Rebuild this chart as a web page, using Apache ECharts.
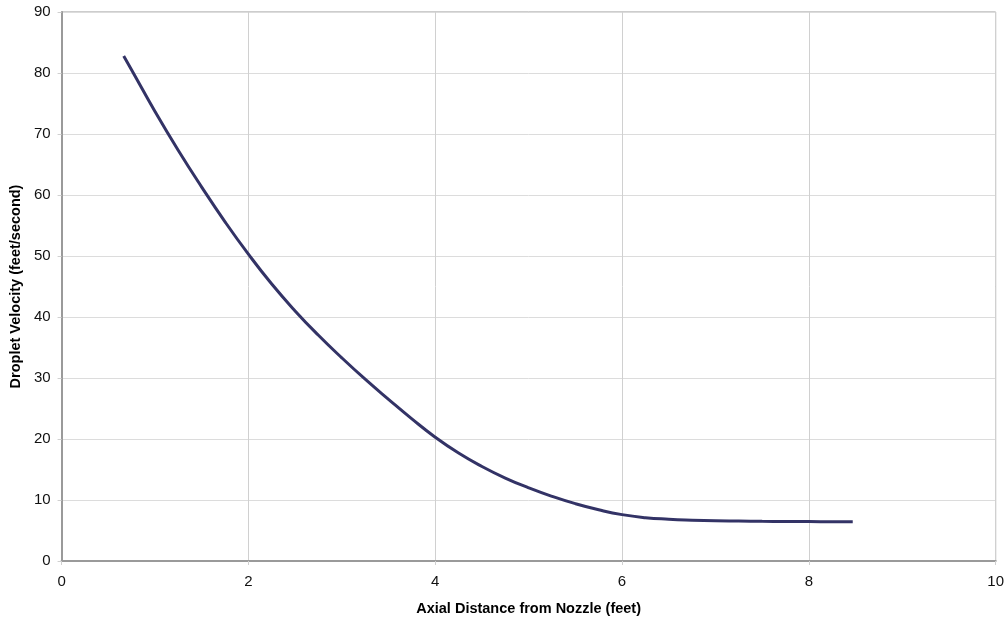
<!DOCTYPE html>
<html><head><meta charset="utf-8">
<script src="https://cdn.jsdelivr.net/npm/echarts@6/dist/echarts.min.js"></script>
<style>html,body{margin:0;padding:0;background:#fff}#c{width:1007px;height:622px}</style>
</head><body><div id="c"></div>
<script>
const distance = [0.665,0.75,1.0,1.25,1.5,1.75,2.0,2.25,2.5,2.75,3.0,3.25,3.5,3.75,4.0,4.25,4.5,4.75,5.0,5.25,5.5,5.75,6.0,6.25,6.5,6.75,7.0,7.25,7.5,7.75,8.0,8.25,8.47];
const velocity = [82.8,80.5,73.7,67.3,61.3,55.6,50.3,45.4,41.0,37.0,33.3,29.8,26.5,23.3,20.3,17.7,15.5,13.6,12.0,10.6,9.4,8.4,7.6,7.1,6.85,6.7,6.6,6.55,6.5,6.48,6.46,6.45,6.45];
const xTitle = 'Axial Distance from Nozzle (feet)';
const yTitle = 'Droplet Velocity (feet/second)';

const chart = echarts.init(document.getElementById('c'), null, {renderer:'canvas'});
const font = 'Liberation Sans, Arial, sans-serif';
chart.setOption({
  animation:false,
  grid:{left:61,right:9,top:12,bottom:61,show:true,borderColor:'#9a9a9a',borderWidth:1,containLabel:false},
  xAxis:{type:'value',min:0,max:10,interval:2,
    name:xTitle,nameLocation:'middle',nameGap:40,
    nameTextStyle:{fontFamily:font,fontWeight:'bold',fontSize:14.5,color:'#000'},
    axisLine:{show:true,lineStyle:{color:'#9a9a9a',width:2}},
    axisTick:{show:true,length:4,lineStyle:{color:'#d0d0d0'}},
    axisLabel:{fontFamily:font,fontSize:15,color:'#111',margin:13},
    splitLine:{show:true,lineStyle:{color:'#d0d0d0',width:1}}},
  yAxis:{type:'value',min:0,max:90,interval:10,
    name:yTitle,nameLocation:'middle',nameGap:37,
    nameTextStyle:{fontFamily:font,fontWeight:'bold',fontSize:14.5,color:'#000'},
    axisLine:{show:true,lineStyle:{color:'#9a9a9a',width:2}},
    axisTick:{show:true,length:4,lineStyle:{color:'#d0d0d0'}},
    axisLabel:{fontFamily:font,fontSize:15,color:'#111',margin:11},
    splitLine:{show:true,lineStyle:{color:'#dcdcdc',width:1}}},
  series:[{type:'line',data:distance.map((d,i)=>[d,velocity[i]]),
    smooth:0.5,showSymbol:false,symbol:'none',
    lineStyle:{color:'#333366',width:3}}]
});
</script></body></html>
